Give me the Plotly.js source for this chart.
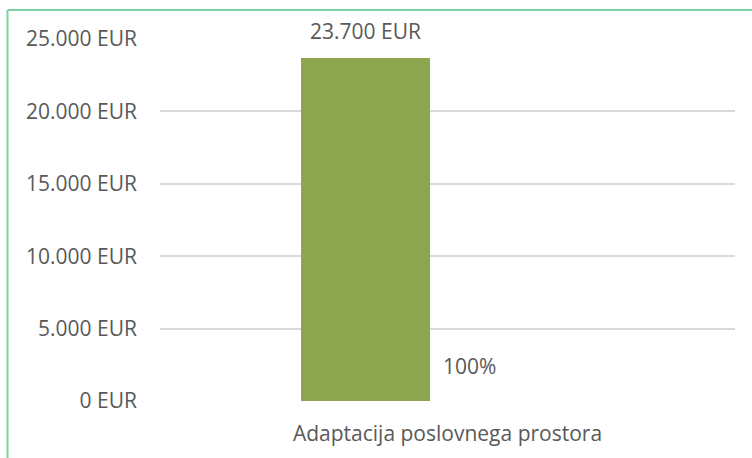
<!DOCTYPE html>
<html>
<head>
<meta charset="utf-8">
<script src="https://cdn.plot.ly/plotly-3.0.1.min.js"></script>
<style>
  html, body { margin: 0; padding: 0; background: #ffffff; }
  #chart { width: 752px; height: 458px; }
</style>
</head>
<body>
<div id="chart"></div>
<script>
const categories = ['Adaptacija poslovnega prostora'];
const values = [23700];
const valueLabels = ['23.700 EUR'];
const shareLabels = ['100%'];
const tickValues = [0, 5000, 10000, 15000, 20000, 25000];
const tickLabels = ['0 EUR', '5.000 EUR', '10.000 EUR', '15.000 EUR', '20.000 EUR', '25.000 EUR'];

const textColor = '#595959';
const fontFamily = '"Open Sans", "Noto Sans", sans-serif';
const fontSize = 21;

const trace = {
  type: 'bar',
  x: categories,
  y: values,
  width: 0.2243,
  offset: -0.2548,
  marker: { color: '#8BA64E', line: { width: 0 } },
  hoverinfo: 'skip'
};

const annotations = [
  {
    x: categories[0], y: values[0], xref: 'x', yref: 'y',
    text: valueLabels[0], showarrow: false,
    xanchor: 'center', yanchor: 'bottom', xshift: -82, yshift: 11,
    font: { family: fontFamily, size: fontSize, color: textColor }
  },
  {
    x: categories[0], y: 0, xref: 'x', yref: 'y',
    text: shareLabels[0], showarrow: false,
    xanchor: 'left', yanchor: 'middle', xshift: -7, yshift: 35,
    font: { family: fontFamily, size: fontSize, color: textColor }
  }
];

const borderColor = '#7DD3A0';
const shapes = [
  { type: 'line', xref: 'paper', yref: 'paper',
    x0: (7.5 - 160) / 575, x1: (760 - 160) / 575, y0: (401 - 10) / 362, y1: (401 - 10) / 362,
    line: { color: borderColor, width: 2 } },
  { type: 'line', xref: 'paper', yref: 'paper',
    x0: (7.5 - 160) / 575, x1: (7.5 - 160) / 575, y0: (401 - 10) / 362, y1: (401 - 470) / 362,
    line: { color: borderColor, width: 2 } }
];

const layout = {
  width: 752, height: 458,
  margin: { l: 160, r: 17, t: 39, b: 57, pad: 0 },
  paper_bgcolor: '#ffffff',
  plot_bgcolor: '#ffffff',
  showlegend: false,
  font: { family: fontFamily, size: fontSize, color: textColor },
  xaxis: {
    type: 'category',
    range: [-0.5, 0.5],
    showgrid: false, zeroline: false, showline: false,
    ticks: '', ticklabelstandoff: 18,
    tickfont: { family: fontFamily, size: fontSize, color: textColor }
  },
  yaxis: {
    range: [0, 25000],
    tickvals: tickValues, ticktext: tickLabels,
    showgrid: true, gridcolor: '#D9D9D9', gridwidth: 2,
    zeroline: false, showline: false, ticks: '',
    ticklabelstandoff: 22,
    tickfont: { family: fontFamily, size: fontSize, color: textColor }
  },
  annotations: annotations,
  shapes: shapes,
  bargap: 0
};

Plotly.newPlot('chart', [trace], layout, { displayModeBar: false, staticPlot: true });
</script>
</body>
</html>
